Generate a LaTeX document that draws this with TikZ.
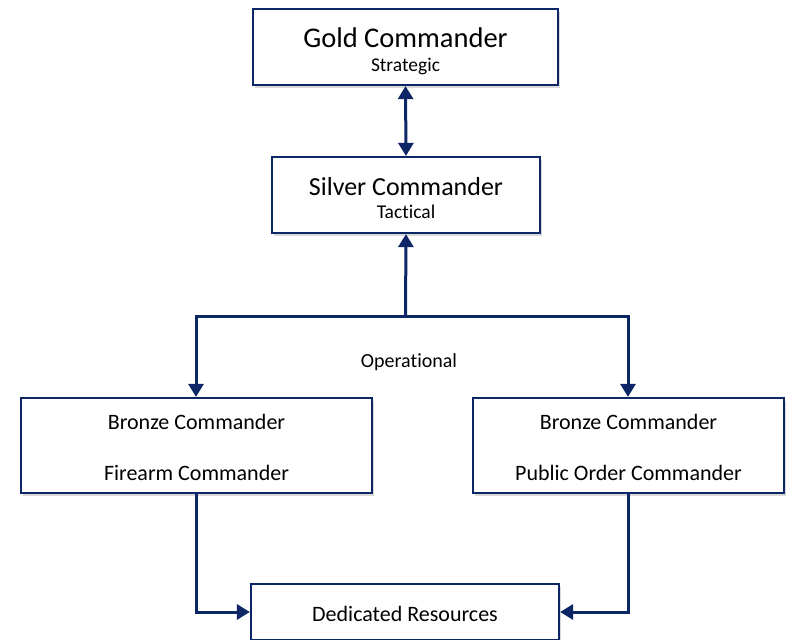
\documentclass[tikz,border=0pt]{standalone}
\usepackage{fontspec}
\setmainfont[Ligatures=NoCommon]{Carlito}
\usetikzlibrary{arrows.meta,shadows}
\definecolor{navy}{RGB}{12,38,102}
\tikzset{
  box/.style={draw=navy, line width=2.2pt, fill=white, inner sep=0pt,
    drop shadow={shadow xshift=2pt, shadow yshift=-2.5pt, opacity=0.25, fill=black!60}},
  lbl/.style={inner sep=0pt, anchor=base},
  conn/.style={draw=navy, line width=3pt, -{Triangle[length=13pt,width=15pt]}},
  biconn/.style={draw=navy, line width=3pt, {Triangle[length=13pt,width=15pt]}-{Triangle[length=13pt,width=15pt]}},
}
\begin{document}
\begin{tikzpicture}[x=1pt,y=-1pt]
\useasboundingbox (0,0) rectangle (788,640);
% boxes
\node[box, minimum width=305pt, minimum height=76pt] (gold) at (405.5,47) {};
\node[lbl, font=\fontsize{28.5}{32}\selectfont] (goldt) at (405.5,47) {Gold Commander};
\node[lbl, font=\fontsize{19.5}{23}\selectfont] (golds) at (405.5,71) {Strategic};

\node[box, minimum width=268pt, minimum height=76pt] (silver) at (406,195) {};
\node[lbl, font=\fontsize{26}{30}\selectfont] (silvert) at (406,195) {Silver Commander};
\node[lbl, font=\fontsize{19.5}{23}\selectfont] (silvers) at (406,218) {Tactical};

\node[box, minimum width=351pt, minimum height=95pt] (bl) at (196.5,445.5) {};
\node[lbl, font=\fontsize{22}{26}\selectfont] (blt) at (196.5,429) {Bronze Commander};
\node[lbl, font=\fontsize{22}{26}\selectfont] (bls) at (196.5,480) {Firearm Commander};

\node[box, minimum width=311pt, minimum height=95pt] (br) at (628.5,445.5) {};
\node[lbl, font=\fontsize{22}{26}\selectfont] (brt) at (628.5,429) {Bronze Commander};
\node[lbl, font=\fontsize{22}{26}\selectfont] (brs) at (628.5,480) {Public Order Commander};

\node[box, minimum width=308pt, minimum height=56pt] (ded) at (405,612) {};
\node[lbl, font=\fontsize{22}{26}\selectfont] (dedt) at (405,621) {Dedicated Resources};

\node[lbl, font=\fontsize{20}{24}\selectfont] (op) at (409,367) {Operational};

% connectors
\coordinate (j) at (405.5,316);
\coordinate (jl) at (196,316);
\coordinate (jr) at (628,316);
\draw[biconn] (gold.south) -- (silver.north);
\draw[conn] (j) -- (silver.south);
\draw[navy, line width=3pt, line cap=rect] (jl) -- (jr);
\draw[conn] (jl) -- (jl |- bl.north);
\draw[conn] (jr) -- (jr |- br.north);
\draw[conn] (bl.south) |- (ded.west);
\draw[conn] (br.south) |- (ded.east);
\end{tikzpicture}
\end{document}
